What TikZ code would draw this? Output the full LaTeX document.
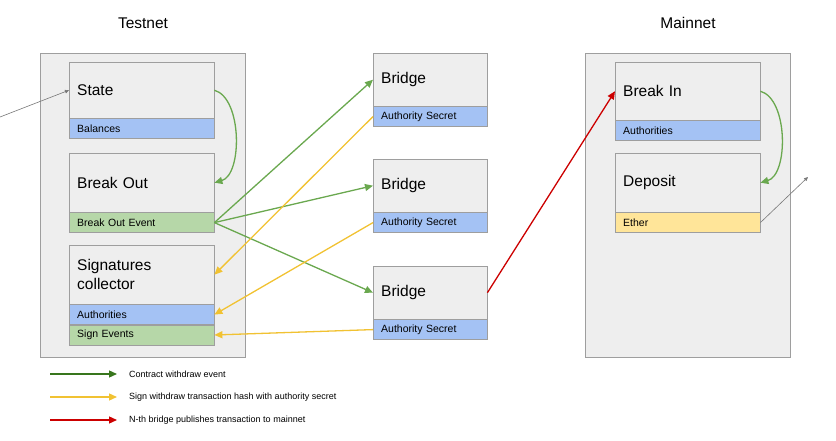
\documentclass[tikz,border=0pt]{standalone}
\usepackage{fontspec}
\setmainfont{Liberation Sans}
\usetikzlibrary{positioning,arrows.meta}

\definecolor{boxgrey}{HTML}{EEEEEE}
\definecolor{linegrey}{HTML}{9E9E9E}
\definecolor{bandblue}{HTML}{A4C2F4}
\definecolor{bandgreen}{HTML}{B6D7A8}
\definecolor{bandyellow}{HTML}{FFE599}
\definecolor{eventgreen}{HTML}{6AA84F}
\definecolor{signyellow}{HTML}{F1C232}
\definecolor{publishred}{HTML}{CC0000}
\definecolor{legendgreen}{HTML}{38761D}
\definecolor{pointergrey}{HTML}{777777}

\tikzset{
  net/.style={draw=linegrey, fill=boxgrey, anchor=north west, minimum width=205pt, minimum height=304pt, inner sep=0pt},
  nettitle/.style={font=\fontsize{15.5}{18}\selectfont},
  contract/.style={draw=linegrey, fill=boxgrey, anchor=north west, minimum width=145pt, text width=129pt, inner xsep=8pt, align=left, font=\fontsize{15.5}{18.5}\selectfont},
  field/.style={draw=linegrey, minimum width=145pt, minimum height=20pt, text width=129pt, inner xsep=8pt, inner ysep=0pt, align=left, font=\fontsize{10.5}{12}\selectfont},
  link/.style={line width=1.3pt, -{Triangle[length=8pt,width=7pt]}},
  pointer/.style={draw=pointergrey, line width=0.6pt, -{Triangle[length=4pt,width=3.5pt]}},
  legendtext/.style={inner sep=0pt, font=\fontsize{9}{11}\selectfont},
}

\begin{document}
\begin{tikzpicture}[x=1pt, y=-1pt, node distance=12pt]
	\useasboundingbox (0,0) rectangle (836,441);

	% testnet side
	\node (testnet) [net] at (40,53) {};
	\node (testnettitle) [nettitle] at (143,23) {Testnet};
	\node (state) [contract, minimum height=56pt] at (69,62) {State};
	\node (balances) [field, fill=bandblue, below=0pt of state] {Balances};
	\node (breakout) [contract, minimum height=59pt] at (69,153) {Break Out};
	\node (breakoutev) [field, fill=bandgreen, below=0pt of breakout] {Break Out Event};
	\node (collector) [contract, minimum height=59pt] at (69,245) {Signatures\\collector};
	\node (collauth) [field, fill=bandblue, below=0pt of collector] {Authorities};
	\node (signev) [field, fill=bandgreen, below=0pt of collauth] {Sign Events};

	% bridges
	\node (bridgeA) [contract, minimum width=114pt, text width=98pt, minimum height=53pt] at (373,53) {Bridge};
	\node (secretA) [field, fill=bandblue, minimum width=114pt, text width=98pt, below=0pt of bridgeA] {Authority Secret};
	\node (bridgeB) [contract, minimum width=114pt, text width=98pt, minimum height=53pt] at (373,159) {Bridge};
	\node (secretB) [field, fill=bandblue, minimum width=114pt, text width=98pt, below=0pt of bridgeB] {Authority Secret};
	\node (bridgeC) [contract, minimum width=114pt, text width=98pt, minimum height=53pt] at (373,266) {Bridge};
	\node (secretC) [field, fill=bandblue, minimum width=114pt, text width=98pt, below=0pt of bridgeC] {Authority Secret};

	% mainnet side
	\node (mainnet) [net] at (585,53) {};
	\node (mainnettitle) [nettitle] at (688,23) {Mainnet};
	\node (breakin) [contract, minimum height=58pt] at (615,62) {Break In};
	\node (mainauth) [field, fill=bandblue, below=0pt of breakin] {Authorities};
	\node (deposit) [contract, minimum height=59pt] at (615,153) {Deposit};
	\node (ether) [field, fill=bandyellow, below=0pt of deposit] {Ether};

	% outside ends
	\coordinate (userin) at (0,117);
	\coordinate (userout) at (808,177);
	\draw[pointer] (userin) -- (state.west);
	\draw[pointer] (ether.east) -- (userout);

	% withdraw events
	\draw[link, eventgreen] (state.east) .. controls +(28,8) and +(28,-8) .. (breakout.east);
	\draw[link, eventgreen] (breakoutev.east) -- (bridgeA.west);
	\draw[link, eventgreen] (breakoutev.east) -- (bridgeB.west);
	\draw[link, eventgreen] (breakoutev.east) -- (bridgeC.west);

	% signatures
	\draw[link, signyellow] (secretA.west) -- (collector.east);
	\draw[link, signyellow] (secretB.west) -- (collauth.east);
	\draw[link, signyellow] (secretC.west) -- (signev.east);

	% publish
	\draw[link, publishred] (bridgeC.east) -- (breakin.west);
	\draw[link, eventgreen] (breakin.east) .. controls +(28,8) and +(28,-8) .. (deposit.east);

	% legend
	\coordinate (lgA) at (50,374);
	\coordinate (lgAend) at (117,374);
	\coordinate (lgB) at (50,397);
	\coordinate (lgBend) at (117,397);
	\coordinate (lgC) at (50,420);
	\coordinate (lgCend) at (117,420);
	\draw[link, legendgreen] (lgA) -- (lgAend);
	\draw[link, signyellow] (lgB) -- (lgBend);
	\draw[link, publishred] (lgC) -- (lgCend);
	\node (lgAtext) [legendtext, right=12pt of lgAend] {Contract withdraw event};
	\node (lgBtext) [legendtext, right=12pt of lgBend] {Sign withdraw transaction hash with authority secret};
	\node (lgCtext) [legendtext, right=12pt of lgCend] {N-th bridge publishes transaction to mainnet};
\end{tikzpicture}
\end{document}
